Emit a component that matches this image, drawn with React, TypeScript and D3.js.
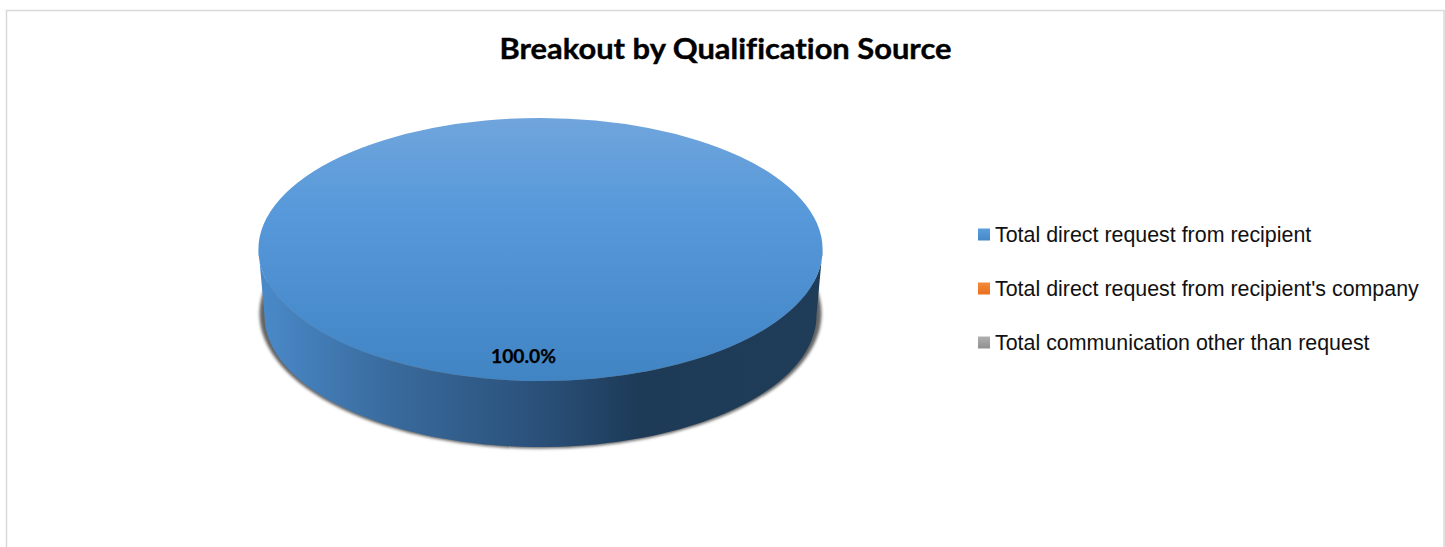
import * as d3 from "d3";

const WIDTH = 1445;
const HEIGHT = 547;

const TITLE = "Breakout by Qualification Source";
const categories = [
  "Total direct request from recipient",
  "Total direct request from recipient's company",
  "Total communication other than request",
];
const values = [100, 0, 0];
const legendTop = ["#5a9fdc", "#f58a3c", "#b0b0b0"];
const legendBottom = ["#4488c8", "#e8701f", "#8f8f8f"];

// pie geometry (3d tilt = y squash plus a wall below the top face)
const cx = 540.5;
const cy = 249.5;
const rx = 282;
const ry = 131.5;
const depth = 66;
const rxBottom = 276; // lower rim sits slightly inside the top face

const total = d3.sum(values);
const slices = d3.pie<number>().value((d) => d).sort(null)(values);
const arcGen = d3.arc<d3.PieArcDatum<number>>().innerRadius(0).outerRadius(rx);

// front half of the rim, d3 angles run clockwise from 12 o'clock
const rimAngles = d3.range(Math.PI / 2, (3 * Math.PI) / 2 + 0.001, Math.PI / 90);
const wallPath = d3
  .area<number>()
  .x0((a) => cx + rx * Math.sin(a))
  .x1((a) => cx + rxBottom * Math.sin(a))
  .y0((a) => cy - ry * Math.cos(a))
  .y1((a) => cy - ry * Math.cos(a) + depth)(rimAngles) as string;

const legendY = d3.scalePoint<string>().domain(categories).range([234, 342]);
const fmtPct = d3.format(".1%");

export default function App() {
  return (
    <svg
      width={WIDTH}
      height={HEIGHT}
      style={{ position: "absolute", left: 0, top: 0, background: "#fff" }}
    >
      <defs>
        <linearGradient id="top-face" x1="0" y1="0" x2="0" y2="1">
          <stop offset="0%" stopColor="#70a5dc" />
          <stop offset="35%" stopColor="#5799da" />
          <stop offset="100%" stopColor="#4184c4" />
        </linearGradient>
        <linearGradient id="wall" gradientUnits="userSpaceOnUse" x1={cx - rx} y1="0" x2={cx + rx} y2="0">
          <stop offset="0%" stopColor="#4a8aca" />
          <stop offset="22%" stopColor="#3a6c9f" />
          <stop offset="50%" stopColor="#2a5079" />
          <stop offset="68%" stopColor="#1d3a57" />
          <stop offset="100%" stopColor="#1f3d59" />
        </linearGradient>
        {categories.map((c, i) => (
          <linearGradient key={c} id={`swatch-${i}`} x1="0" y1="0" x2="0" y2="1">
            <stop offset="0%" stopColor={legendTop[i]} />
            <stop offset="100%" stopColor={legendBottom[i]} />
          </linearGradient>
        ))}
        <filter id="soft" x="-5%" y="-5%" width="110%" height="115%">
          <feGaussianBlur stdDeviation="1.6" />
        </filter>
      </defs>

      {/* chart frame, open at the bottom */}
      <path
        d={`M6.5,${HEIGHT}V10.5H${WIDTH - 1}V${HEIGHT}`}
        fill="none"
        stroke="#d9d9d9"
        strokeWidth={1.5}
      />

      <text
        x={725.5}
        y={59}
        textAnchor="middle"
        fontFamily="Lato, sans-serif"
        fontWeight={700}
        fontSize={29}
        textLength={452}
        lengthAdjust="spacingAndGlyphs"
        fill="#000"
        stroke="#000"
        strokeWidth={0.4}
        style={{ fontVariantLigatures: "none" }}
      >
        {TITLE}
      </text>

      {/* drop shadow under the wall */}
      <ellipse
        cx={cx}
        cy={cy + depth - 2}
        rx={rx - 1}
        ry={ry + 3.5}
        fill="#4a4a4a"
        opacity={0.85}
        filter="url(#soft)"
      />

      <path d={wallPath} fill="url(#wall)" />

      {/* top face, slices drawn from the pie layout */}
      <g transform={`translate(${cx},${cy}) scale(1,${ry / rx})`}>
        {slices.map((s, i) =>
          s.value > 0 ? <path key={i} d={arcGen(s) as string} fill="url(#top-face)" /> : null
        )}
      </g>

      {slices.map((s, i) =>
        s.value > 0 ? (
          <text
            key={i}
            x={523.5}
            y={363}
            textAnchor="middle"
            fontFamily="Lato, sans-serif"
            fontWeight={700}
            fontSize={18}
            textLength={65}
            lengthAdjust="spacingAndGlyphs"
            fill="#000"
            stroke="#000"
            strokeWidth={0.25}
          >
            {fmtPct(s.value / total)}
          </text>
        ) : null
      )}

      {/* legend */}
      {categories.map((c, i) => {
        const y = legendY(c) as number;
        return (
          <g key={c}>
            <rect x={978} y={y - 5.5} width={12} height={12} fill={`url(#swatch-${i})`} />
            <text
              x={995}
              y={y + 7.5}
              fontFamily="'Liberation Sans', Arial, sans-serif"
              fontSize={21.4}
              fill="#111"
            >
              {c}
            </text>
          </g>
        );
      })}
    </svg>
  );
}
